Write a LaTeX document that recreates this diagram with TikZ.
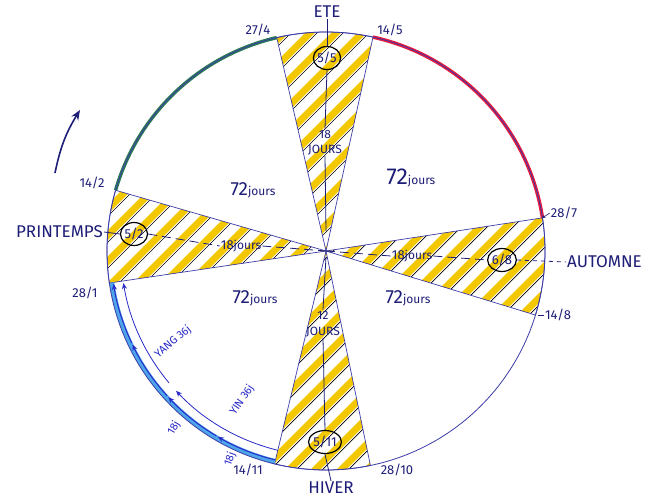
\documentclass[tikz,border=0pt]{standalone}
\usepackage{fontspec}
\setmainfont{Fira Sans}
\usetikzlibrary{arrows.meta,shapes.geometric}

\definecolor{ink}{HTML}{1E1E78}
\definecolor{edge}{HTML}{3C3CA8}
\definecolor{stripe}{HTML}{F4C800}
\definecolor{leaf}{HTML}{2B7A55}
\definecolor{ember}{HTML}{E8193C}
\definecolor{sky}{HTML}{4DA6EA}
\definecolor{flow}{HTML}{2A2AC8}

% Radius of the wheel (1 unit = 1pt)
\def\R{219}
\newcommand\wedgepath[2]{(0,0) -- (#1:\R) arc[start angle=#1, end angle=#2, radius=\R] -- cycle}

\tikzset{
  date/.style={text=ink, font=\fontsize{13}{13}\selectfont, inner sep=1pt},
  season/.style={text=ink, font=\fontsize{17}{17}\selectfont, inner sep=1pt},
  small days/.style={text=ink, font=\fontsize{12}{12}\selectfont, inner sep=1pt},
  circled/.style={draw=black, line width=1.2pt, ellipse, text=ink, inner sep=0pt,
    minimum width=27pt, minimum height=23pt, font=\fontsize{13}{13}\selectfont},
  flowtext/.style={text=flow, font=\fontsize{11}{11}\selectfont, inner sep=0.5pt},
  tip/.style={-{Stealth[length=6pt,width=5pt]}}
}
\newcommand\seventytwo[1]{{\fontsize{#1}{#1}\selectfont 72}{\fontsize{12}{12}\selectfont jours}}

\begin{document}
\begin{tikzpicture}[x=1pt,y=1pt]
  \useasboundingbox (-326,-248) rectangle (324,251);
  \fill[white] (-326,-248) rectangle (324,251);

  % Hatched wedges
  \begin{scope}
    \clip \wedgepath{77.6}{103} \wedgepath{-17}{8.7} \wedgepath{-103.6}{-78.3} \wedgepath{163.9}{188.4};
    \foreach \c in {-442,-416,...,442} {
      \draw[stripe, line width=7pt] (\c-300,-300) -- (\c+300,300);
      \draw[black, line width=0.7pt] (\c+7-300,-300) -- (\c+7+300,300);
    }
  \end{scope}
  \foreach \a/\b in {77.6/103, -17/8.7, -103.6/-78.3, 163.9/188.4}
    \draw[edge, line width=0.7pt] \wedgepath{\a}{\b};

  % Coloured arcs
  \draw[leaf, line width=3.5pt] (103:\R) arc[start angle=103, end angle=163.9, radius=\R];
  \draw[ember, line width=3.5pt] (8.7:\R) arc[start angle=8.7, end angle=77.6, radius=\R];
  \draw[sky, line width=5pt] (188.4:\R-2.5) arc[start angle=188.4, end angle=256.4, radius=\R-2.5];
  \draw[edge, line width=0.8pt] (0,0) circle (\R);

  % Yin / yang arrows
  \foreach \a in {256.4,239.4,222.4,205.4}
    \draw[flow, line width=1pt, tip] (\a:215) arc[start angle=\a, end angle=\a-16.6, radius=215];
  \draw[flow, line width=0.8pt, tip] (256.4:205) arc[start angle=256.4, end angle=223, radius=205];
  \draw[flow, line width=0.8pt, tip] (220:205) arc[start angle=220, end angle=189, radius=205];
  \node[flowtext, rotate=56] (yin) at (-84,-149) {YIN 36j};
  \node[flowtext, rotate=40] (yang) at (-153,-91) {YANG 36j};
  \node[flowtext, rotate=60] (quarterA) at (-152,-177) {18j};
  \node[flowtext, rotate=70] (quarterB) at (-96,-208) {18j};

  % Sense of rotation
  \coordinate (turnA) at (-271,78);
  \coordinate (turnB) at (-246,141);
  \draw[ink, line width=1.6pt, -{Stealth[length=10pt,width=8pt]}] (turnA) to[bend left=10] (turnB);

  % Centre
  \coordinate (hub) at (0,0);
  \coordinate (hubN) at (0,20);
  \coordinate (hubS) at (0,-6);

  % Seasons
  \node[season] (ete) at (1,239) {ETE};
  \node[season] (hiver) at (5,-237) {HIVER};
  \node[season, anchor=east] (printemps) at (-222,19) {PRINTEMPS};
  \node[season, anchor=west] (automne) at (240,-11) {AUTOMNE};

  \node[circled] (c55) at (1,193) {5/5};
  \node[circled] (c511) at (-1,-191) {5/11};
  \node[circled] (c52) at (-192,17) {5/2};
  \node[circled] (c68) at (176,-9) {6/8};

  % Dates
  \node[date] (d274) at (-68,221) {27/4};
  \node[date] (d145) at (64,221) {14/5};
  \node[date] (d142) at (-234,68) {14/2};
  \node[date] (d287) at (238,38) {28/7};
  \node[date] (d148) at (232,-64) {14/8};
  \node[date] (d281) at (-241,-42) {28/1};
  \node[date] (d1411) at (-78,-219) {14/11};
  \node[date] (d2810) at (71,-219) {28/10};
  \coordinate (corner287) at (8.7:\R);
  \coordinate (corner148) at (-17:\R);
  \draw[ink, line width=0.6pt, -{Stealth[length=3pt,width=3pt]}] (d287.west) -- (corner287);
  \draw[ink, line width=0.6pt] (d148.west) -- ++(-6,0);

  % Day counts
  \node[small days] (top18) at (-1,117) {18};
  \node[small days] (topjours) at (-1,101) {JOURS};
  \node[small days] (bot12) at (-3,-64) {12};
  \node[small days] (botjours) at (-3,-81) {JOURS};
  \node[text=ink, inner sep=1pt] (ljours) at (-85,5) {{\fontsize{13}{13}\selectfont 18}{\fontsize{12}{12}\selectfont jours}};
  \node[text=ink, inner sep=1pt] (rjours) at (86,-5) {{\fontsize{13}{13}\selectfont 18}{\fontsize{12}{12}\selectfont jours}};
  \node[text=ink] (ul) at (-73,61) {\seventytwo{19}};
  \node[text=ink] (ur) at (85,73) {\seventytwo{23}};
  \node[text=ink] (ll) at (-71,-47) {\seventytwo{19}};
  \node[text=ink] (lr) at (82,-47) {\seventytwo{19}};

  % Axes of the seasons
  \draw[ink, line width=0.8pt] (ete.south) -- (c55.north);
  \draw[ink, line width=0.8pt] (c55.south) -- (top18.north);
  \draw[ink, line width=0.8pt] (topjours.south) -- (hubN);
  \draw[ink, line width=0.8pt] (hubS) -- (bot12.north);
  \draw[ink, line width=0.8pt] (botjours.south) -- (c511.north);
  \draw[ink, line width=0.8pt] (c511.south) -- (hiver.north);
  \draw[ink, line width=0.8pt] (printemps.east) -- (c52.west);
  \draw[ink, line width=0.8pt, dash pattern=on 9pt off 5pt] (c52.east) -- (ljours.west);
  \draw[ink, line width=0.8pt, dash pattern=on 9pt off 5pt] (ljours.east) -- (hub);
  \draw[ink, line width=0.8pt, dash pattern=on 9pt off 5pt] (hub) -- (rjours.west);
  \draw[ink, line width=0.8pt, dash pattern=on 9pt off 5pt] (rjours.east) -- (c68.west);
  \draw[ink, line width=0.8pt, dash pattern=on 4pt off 4pt] (c68.east) -- (automne.west);
\end{tikzpicture}
\end{document}
